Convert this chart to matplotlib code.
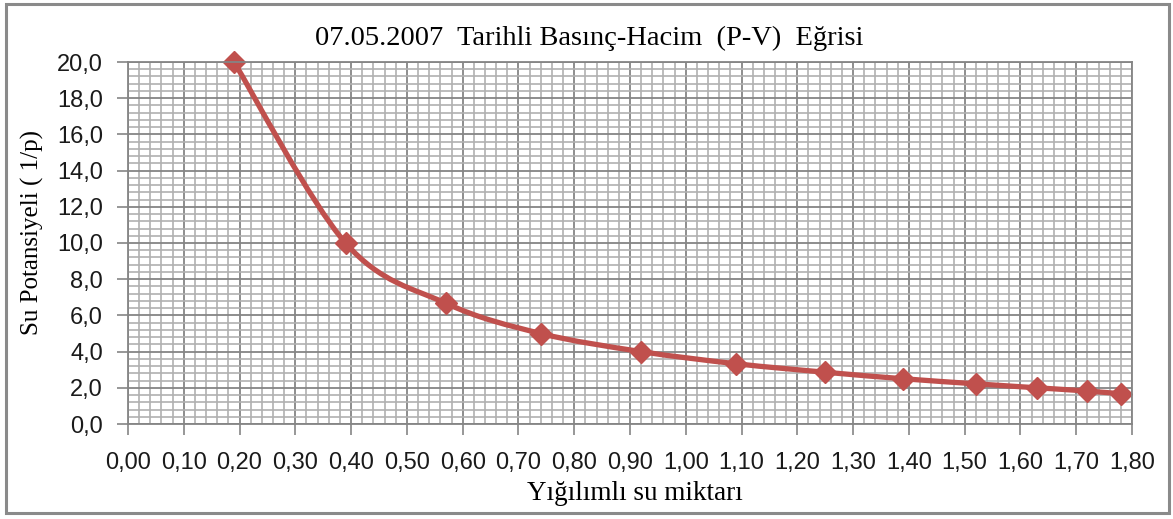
import numpy as np
import matplotlib
matplotlib.use("Agg")
import matplotlib.pyplot as plt
from matplotlib.path import Path
from matplotlib.patches import PathPatch, Rectangle
from matplotlib.ticker import MultipleLocator, FuncFormatter

# cumulative water volume vs. 1/p
volume = [0.19, 0.39, 0.57, 0.74, 0.92, 1.09, 1.25, 1.39, 1.52, 1.63, 1.72, 1.78]
potential = [20.0, 10.0, 6.67, 5.0, 4.0, 3.33, 2.86, 2.5, 2.22, 2.0, 1.82, 1.67]

title = "07.05.2007  Tarihli Basınç-Hacim  (P-V)  Eğrisi"
x_title = "Yığılımlı su miktarı"
y_title = "Su Potansiyeli ( 1/p)"

RED = "#C0504D"
MAJOR = "#858585"
MINOR = "#b0b0b0"
W, H = 1173, 519


def smooth_path(xs, ys):
    # Catmull-Rom through the points, as cubic bezier segments
    pts = np.column_stack([xs, ys])
    n = len(pts)
    verts = [pts[0]]
    codes = [Path.MOVETO]
    for i in range(n - 1):
        p0 = pts[max(i - 1, 0)]
        p1 = pts[i]
        p2 = pts[i + 1]
        p3 = pts[min(i + 2, n - 1)]
        verts += [p1 + (p2 - p0) / 6, p2 - (p3 - p1) / 6, p2]
        codes += [Path.CURVE4] * 3
    return Path(verts, codes)


fig = plt.figure(figsize=(W / 100, H / 100), dpi=100)
ax = fig.add_axes([128 / W, 1 - 424 / H, (1132 - 128) / W, (424 - 62) / H])

ax.set_xlim(0, 1.8)
ax.set_ylim(0, 20)
ax.xaxis.set_major_locator(MultipleLocator(0.1))
ax.xaxis.set_minor_locator(MultipleLocator(0.02))
ax.yaxis.set_major_locator(MultipleLocator(2))
ax.yaxis.set_minor_locator(MultipleLocator(0.4))
ax.xaxis.set_major_formatter(FuncFormatter(lambda v, p: f"{v:.2f}".replace(".", ",")))
ax.yaxis.set_major_formatter(FuncFormatter(lambda v, p: f"{v:.1f}".replace(".", ",")))

ax.grid(which="minor", color=MINOR, lw=1.2)
ax.grid(which="major", color=MAJOR, lw=1.3)
ax.set_axisbelow(True)
for s in ax.spines.values():
    s.set_color(MAJOR)
    s.set_linewidth(1.3)

ax.tick_params(which="major", direction="out", length=8, width=1.2, color=MAJOR,
               labelsize=17, labelcolor="#1a1a1a")
ax.tick_params(axis="x", pad=12)
ax.tick_params(axis="y", pad=10)
ax.tick_params(which="minor", length=0)
for lbl in ax.get_xticklabels() + ax.get_yticklabels():
    lbl.set_family("Liberation Sans")

ax.add_patch(PathPatch(smooth_path(volume, potential), facecolor="none",
                       edgecolor=RED, lw=3.8, capstyle="round", joinstyle="round"))
ax.plot(volume, potential, ls="none", marker="D", ms=11, color=RED, clip_on=False)

fig.text(589 / W, 1 - 38 / H, title, ha="center", va="center",
         family="Liberation Serif", fontsize=20.5)
fig.text(635 / W, 1 - 494 / H, x_title, ha="center", va="center",
         family="Liberation Serif", fontsize=19.5)
fig.text(32 / W, 1 - 232 / H, y_title, ha="center", va="center", rotation=90,
         family="Liberation Serif", fontsize=18)

fig.patches.append(Rectangle((6 / W, 1 - 513 / H), 1163 / W, 509 / H,
                             transform=fig.transFigure, fill=False,
                             edgecolor="#8a8a8a", lw=2.2))

fig.savefig("out.png", dpi=100)
